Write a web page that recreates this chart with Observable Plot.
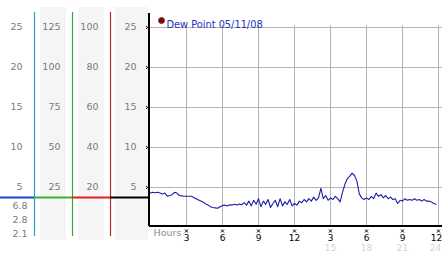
<!DOCTYPE html>
<html>
<head>
<meta charset="utf-8">
<script src="https://cdn.jsdelivr.net/npm/d3@7"></script>
<script src="https://cdn.jsdelivr.net/npm/@observablehq/plot@0.6"></script>
<style>
  body { margin: 0; background: #fff; }
  #wrap { position: relative; width: 442px; height: 253px; overflow: hidden; }
  #wrap svg { position: absolute; left: 0; top: 0; }
</style>
</head>
<body>
<div id="wrap"></div>
<script>
// ---- data ----
const seriesName = "Dew Point 05/11/08";
const stepHours = 0.2;
const dewPoint = [
  4.3, 4.4, 4.35, 4.4, 4.3,
  4.2, 4.3, 3.9, 4.0, 4.1,
  4.4, 4.3, 4.0, 3.95, 3.9,
  3.9, 3.9, 3.9, 3.75, 3.6,
  3.45, 3.3, 3.15, 2.95, 2.8,
  2.6, 2.5, 2.45, 2.4, 2.6,
  2.75, 2.8, 2.7, 2.85, 2.8,
  2.9, 2.8, 2.95, 2.85, 3.1,
  2.8, 3.3, 2.7, 3.4, 2.9,
  3.6, 2.6, 3.3, 2.9, 3.5,
  2.5, 3.0, 3.4, 2.6, 3.6,
  2.7, 3.2, 2.9, 3.5, 2.7,
  3.0, 2.8, 3.3, 3.1, 3.5,
  3.2, 3.6, 3.3, 3.8, 3.4,
  3.7, 4.9, 3.6, 4.0, 3.4,
  3.7, 3.5, 3.9, 3.6, 3.2,
  4.4, 5.4, 6.1, 6.4, 6.8,
  6.5, 5.8, 4.2, 3.7, 3.5,
  3.7, 3.5, 3.9, 3.6, 4.3,
  3.9, 4.1, 3.7, 4.0, 3.6,
  3.8, 3.5, 3.6, 3.0, 3.4,
  3.3, 3.6, 3.4, 3.5, 3.4,
  3.6, 3.4, 3.5, 3.3, 3.5,
  3.3, 3.3, 3.2, 3.0, 2.9
];
const yTicks = [5, 10, 15, 20, 25];
const scaleColumns = [
  [5, 10, 15, 20, 25],
  [25, 50, 75, 100, 125],
  [20, 40, 60, 80, 100],
  [5, 10, 15, 20, 25]
];
const stats = ["6.8", "2.8", "2.1"];
const markerValue = 3.75;
const hourTicks = [3, 6, 9, 12, 15, 18, 21, 24];
const hourLabels = ["3", "6", "9", "12", "3", "6", "9", "12"];
const hour24Ticks = [15, 18, 21, 24];
const hour24Labels = ["15", "18", "21", "24"];
const xAxisTitle = "Hours";

// ---- derived tables ----
const series = dewPoint.map((v, i) => ({hour: i * stepHours, value: v}));
const colLabels = scaleColumns.flatMap((vals, c) => vals.map((v, k) => ({col: c, y: yTicks[k], label: String(v)})));
const hourRows = hourTicks.map((h, i) => ({hour: h, label: hourLabels[i]}));
const hour24Rows = hour24Ticks.map((h, i) => ({hour: h, label: hour24Labels[i]}));
const lastHour = hourTicks[hourTicks.length - 1];
const font = "DejaVu Sans";
const yScale = {domain: [0, 25], range: [227, 27]};

// ---- left panel (scales) ----
const left = Plot.plot({
  width: 149, height: 253,
  marginLeft: 0, marginRight: 0, marginTop: 7, marginBottom: 13,
  x: {domain: [0, 4], range: [-4, 148], axis: null},
  y: {...yScale, axis: null},
  style: {fontFamily: font, fontSize: "9px", background: "transparent"},
  marks: [
    Plot.rect([1, 2], {x1: d => d, x2: d => d + 1, insetLeft: 6, insetRight: 6, fill: "#f5f5f5"}),
    Plot.rect([3], {x1: d => d, x2: d => d + 1, insetLeft: 5, insetRight: 0, fill: "#f5f5f5"}),
    Plot.ruleX([1, 2, 3], {x: d => d, stroke: (d, i) => ["#2b9fd0", "#2eaa2e", "#b02828"][i], strokeWidth: 1.2, insetTop: 5, insetBottom: 4}),
    Plot.ruleY([0, 1, 2, 3], {x1: d => d, x2: d => d + 1, y: () => markerValue, stroke: (d, i) => ["#2040d0", "#30b830", "#e02020", "#000"][i], strokeWidth: 2.2}),
    Plot.text(colLabels, {x: d => d.col + 1, y: "y", text: "label", dx: -12, dy: -1, textAnchor: "end", fill: "#7a7a7a", fontSize: 9.5}),
    Plot.text([stats.join("\n")], {x: () => 1, frameAnchor: "bottom", dx: -7, dy: -22, textAnchor: "end", lineAnchor: "middle", lineHeight: 1.45, fill: "#7a7a7a", fontSize: 9.5})
  ]
});

// ---- right panel (chart) ----
const right = Plot.plot({
  width: 442, height: 253,
  marginLeft: 149, marginRight: 0, marginTop: 25, marginBottom: 27,
  x: {domain: [0, 24], range: [150, 438], axis: null},
  y: {...yScale, axis: null},
  style: {fontFamily: font, fontSize: "9px", background: "transparent"},
  marks: [
    Plot.ruleX(hourTicks, {stroke: "#b4b4b4", strokeWidth: 1}),
    Plot.ruleY(yTicks, {stroke: "#b4b4b4", strokeWidth: 1}),
    Plot.line(series, {x: "hour", y: "value", stroke: "#1c1ca8", strokeWidth: 1.1}),
    Plot.ruleX([0], {stroke: "#000", strokeWidth: 2, dx: -1.5, insetTop: -12}),
    Plot.ruleY([0], {stroke: "#000", strokeWidth: 2, dy: -1.5}),
    Plot.dot(yTicks, {x: () => 0, y: d => d, dx: -3, symbol: "times", r: 1.5, stroke: "#000", strokeWidth: 1}),
    Plot.dot(hourTicks, {x: d => d, y: () => 0, dy: 3.5, symbol: "times", r: 1.5, stroke: "#000", strokeWidth: 1}),
    Plot.text(hourRows.filter(d => d.hour !== lastHour), {x: "hour", y: () => 0, text: "label", dy: 11, fill: "#000", fontSize: 9}),
    Plot.text(hourRows.filter(d => d.hour === lastHour), {x: "hour", y: () => 0, text: "label", dy: 11, dx: -2, fill: "#000", fontSize: 9}),
    Plot.text(hour24Rows.filter(d => d.hour !== lastHour), {x: "hour", y: () => 0, text: "label", dy: 21, fill: "#d4d4d4", fontSize: 9}),
    Plot.text(hour24Rows.filter(d => d.hour === lastHour), {x: "hour", y: () => 0, text: "label", dy: 21, dx: -3, fill: "#d4d4d4", fontSize: 9}),
    Plot.text([xAxisTitle], {x: () => 0, y: () => 0, dx: 3, dy: 5, textAnchor: "start", fill: "#8a8a8a", fontSize: 9.5}),
    Plot.dot([seriesName], {frameAnchor: "top-left", dx: 12, dy: -5, r: 3, fill: "#990000", stroke: "#333", strokeWidth: 0.8}),
    Plot.text([seriesName], {frameAnchor: "top-left", dx: 17, dy: -4.5, textAnchor: "start", fill: "#2233bb", fontSize: 9.8})
  ]
});

const wrap = document.getElementById("wrap");
wrap.appendChild(left);
wrap.appendChild(right);
</script>
</body>
</html>
